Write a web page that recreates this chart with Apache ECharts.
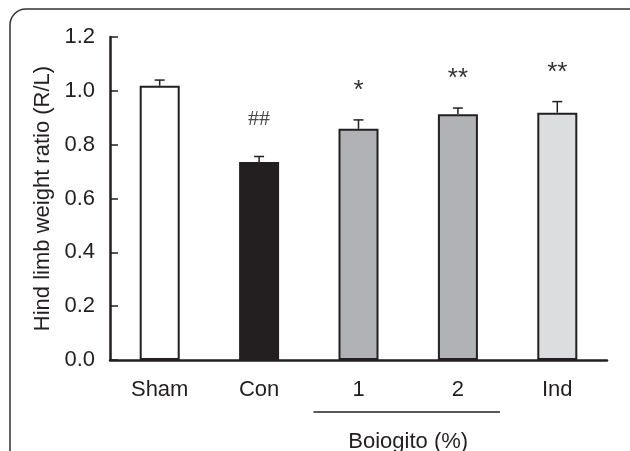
<!DOCTYPE html>
<html>
<head>
<meta charset="utf-8">
<style>
  html, body { margin: 0; padding: 0; background: #ffffff; }
  #chart { width: 630px; height: 451px; }
</style>
<script src="https://cdn.jsdelivr.net/npm/echarts@6/dist/echarts.min.js"></script>
</head>
<body>
<div id="chart"></div>
<script>
// Groups and measured hind limb weight ratios (R/L)
const categories = ['Sham', 'Con', '1', '2', 'Ind'];
const means = [1.019, 0.736, 0.859, 0.913, 0.919];
const errors = [0.021, 0.020, 0.033, 0.023, 0.041];
const marks = ['', '##', '*', '**', '**'];
const fills = ['#ffffff', '#231f20', '#b1b2b6', '#b1b2b6', '#dcdddf'];
const yTicks = [0, 0.2, 0.4, 0.6, 0.8, 1.0, 1.2];
const groupLabel = 'Boiogito (%)';
const groupMembers = ['1', '2'];

const ink = '#231f20';
const sans = '"Liberation Sans", Arial, sans-serif';
const serif = '"Liberation Serif", "Times New Roman", serif';

const chart = echarts.init(document.getElementById('chart'));

const option = {
  animation: false,
  grid: { left: 110, right: 23, top: 37, bottom: 91, containLabel: false },
  xAxis: {
    type: 'category',
    data: categories,
    axisLine: { lineStyle: { color: ink, width: 2.5 } },
    axisTick: { inside: true, length: 7, lineStyle: { color: ink, width: 1.5 } },
    axisLabel: { color: ink, fontFamily: sans, fontSize: 22, margin: 19 }
  },
  yAxis: {
    type: 'value',
    min: yTicks[0],
    max: yTicks[yTicks.length - 1],
    interval: 0.2,
    name: 'Hind limb weight ratio (R/L)',
    nameLocation: 'middle',
    nameGap: 56,
    nameRotate: 90,
    nameTextStyle: { color: ink, fontFamily: sans, fontSize: 22 },
    axisLine: { show: true, lineStyle: { color: ink, width: 2.5 } },
    axisTick: { show: true, inside: true, length: 8, lineStyle: { color: ink, width: 1.5 } },
    splitLine: { show: false },
    axisLabel: {
      color: ink, fontFamily: sans, fontSize: 22, margin: 15,
      formatter: v => v.toFixed(1)
    }
  },
  series: [
    {
      type: 'bar',
      barWidth: 40,
      data: means.map((v, i) => ({
        value: v,
        itemStyle: { color: fills[i], borderColor: ink, borderWidth: 2 }
      })),
      z: 2
    },
    {
      // upper error bars with caps, plus significance marks above
      type: 'custom',
      z: 3,
      data: means.map((v, i) => [i, v, v + errors[i]]),
      renderItem: (params, api) => {
        const i = api.value(0);
        const top = api.coord([i, api.value(1)]);
        const hi = api.coord([i, api.value(2)]);
        const half = 5;
        const children = [
          { type: 'line', shape: { x1: top[0], y1: top[1], x2: hi[0], y2: hi[1] },
            style: { stroke: ink, lineWidth: 1.5 } },
          { type: 'line', shape: { x1: hi[0] - half, y1: hi[1], x2: hi[0] + half, y2: hi[1] },
            style: { stroke: ink, lineWidth: 1.5 } }
        ];
        const m = marks[i];
        if (m) {
          const isHash = m.indexOf('#') >= 0;
          children.push({
            type: 'text',
            style: {
              text: m,
              x: hi[0],
              y: hi[1] - (isHash ? 37 : 29),
              align: 'center',
              verticalAlign: 'middle',
              font: isHash ? '22px ' + serif : '26px ' + sans,
              fill: isHash ? '#4a4a4a' : '#333333'
            }
          });
        }
        return { type: 'group', children };
      }
    }
  ]
};

chart.setOption(option);

// Underline spanning the Boiogito dose groups, with its caption
const firstIdx = categories.indexOf(groupMembers[0]);
const lastIdx = categories.indexOf(groupMembers[groupMembers.length - 1]);
const left = chart.convertToPixel({ xAxisIndex: 0 }, categories[firstIdx]);
const right = chart.convertToPixel({ xAxisIndex: 0 }, categories[lastIdx]);
const baseY = chart.convertToPixel({ yAxisIndex: 0 }, 0);

chart.setOption({
  graphic: [
    {
      type: 'rect',
      shape: { x: 10, y: 9, width: 650, height: 480, r: 16 },
      style: { fill: 'none', stroke: '#333333', lineWidth: 1.5 },
      silent: true
    },
    {
      type: 'line',
      shape: { x1: left - 45, y1: baseY + 52, x2: right + 42, y2: baseY + 52 },
      style: { stroke: ink, lineWidth: 1.5 }
    },
    {
      type: 'text',
      style: {
        text: groupLabel,
        x: (left + right) / 2,
        y: baseY + 82,
        align: 'center',
        verticalAlign: 'middle',
        font: '22px ' + sans,
        fill: ink
      }
    }
  ]
});
</script>
</body>
</html>
